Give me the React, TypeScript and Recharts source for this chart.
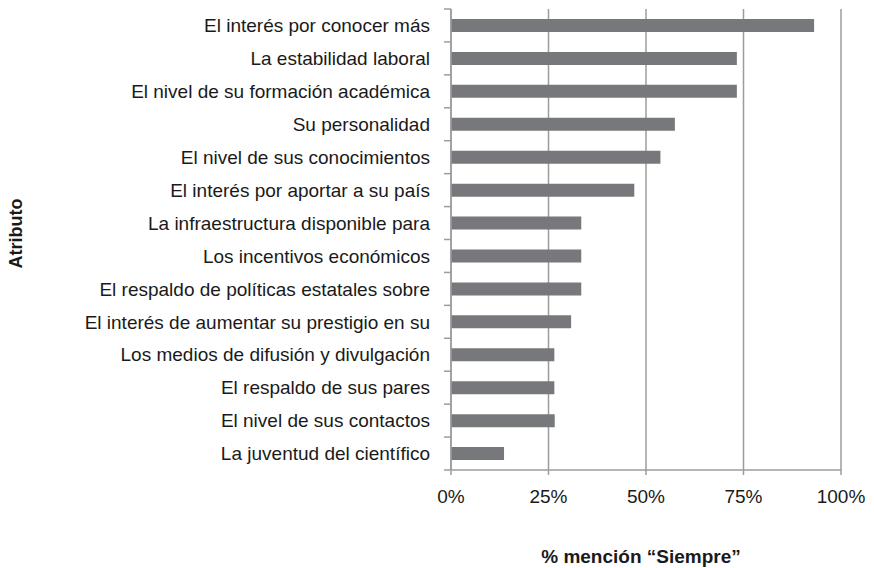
import * as React from 'react';
import { BarChart, Bar, XAxis, YAxis, CartesianGrid, Label } from 'recharts';

const atributos = [
  'El interés por conocer más',
  'La estabilidad laboral',
  'El nivel de su formación académica',
  'Su personalidad',
  'El nivel de sus conocimientos',
  'El interés por aportar a su país',
  'La infraestructura disponible para',
  'Los incentivos económicos',
  'El respaldo de políticas estatales sobre',
  'El interés de aumentar su prestigio en su',
  'Los medios de difusión y divulgación',
  'El respaldo de sus pares',
  'El nivel de sus contactos',
  'La juventud del científico'
];

const siempre = [93.1, 73.3, 73.3, 57.4, 53.7, 47.0, 33.4, 33.4, 33.4, 30.8, 26.5, 26.5, 26.6, 13.6];

const xTicks = [0, 25, 50, 75, 100];

const data = atributos.map((name, i) => ({ name, value: siempre[i] }));

const WIDTH = 874;
const HEIGHT = 568;
const MARGIN = { top: 9, right: 33, bottom: 0, left: 0 };
const X_AXIS_HEIGHT = 98;
const Y_AXIS_WIDTH = 451;
const TICK_SIZE = 7;
const TICK_MARGIN = 14;

const plotHeight = HEIGHT - MARGIN.top - MARGIN.bottom - X_AXIS_HEIGHT;
const band = plotHeight / atributos.length;

const FONT = '"Liberation Sans", Arial, Helvetica, sans-serif';
const GRID = '#9c9c9c';

// category label + tick marks on the band boundaries (Excel style)
const CategoryTick = (props: any) => {
  const { x, y, payload, index } = props;
  const lineX2 = x + TICK_MARGIN + TICK_SIZE;
  const lineX1 = x + TICK_MARGIN;
  return (
    <g>
      {index === 0 && (
        <line x1={lineX1} x2={lineX2} y1={y - band / 2} y2={y - band / 2} stroke={GRID} strokeWidth={1.5} />
      )}
      <line x1={lineX1} x2={lineX2} y1={y + band / 2} y2={y + band / 2} stroke={GRID} strokeWidth={1.5} />
      <text x={x} y={y} dy="0.355em" textAnchor="end" fontSize={19} fontFamily={FONT} fill="#1a1a1a">
        {payload.value}
      </text>
    </g>
  );
};

export default function App() {
  return (
    <div style={{ position: 'absolute', left: 0, top: 0, width: WIDTH, height: HEIGHT, background: '#fff' }}>
      <BarChart width={WIDTH} height={HEIGHT} data={data} layout="vertical" margin={MARGIN}>
        <CartesianGrid horizontal={false} stroke={GRID} strokeWidth={1.5} verticalValues={xTicks} />
        <XAxis
          type="number"
          domain={[0, 100]}
          ticks={xTicks}
          interval={0}
          height={X_AXIS_HEIGHT}
          tickFormatter={(v: number) => `${v}%`}
          axisLine={{ stroke: GRID, strokeWidth: 1.5 }}
          tickLine={{ stroke: GRID, strokeWidth: 1.5 }}
          tickSize={5}
          tickMargin={15}
          tick={{ fontSize: 19, fontFamily: FONT, fill: '#1a1a1a' }}
        >
          <Label
            content={(p: any) => {
              const vb = p.viewBox;
              return (
                <text
                  x={vb.x + vb.width / 2 - 5}
                  y={563}
                  textAnchor="middle"
                  fontSize={19}
                  fontWeight="bold"
                  fontFamily={FONT}
                  fill="#1a1a1a"
                >
                  % mención “Siempre”
                </text>
              );
            }}
          />
        </XAxis>
        <YAxis
          type="category"
          dataKey="name"
          width={Y_AXIS_WIDTH}
          interval={0}
          tickLine={false}
          tickSize={TICK_SIZE}
          tickMargin={TICK_MARGIN}
          axisLine={{ stroke: GRID, strokeWidth: 1.5 }}
          tick={<CategoryTick />}
        >
          <Label
            content={(p: any) => {
              const vb = p.viewBox;
              const cy = vb.y + vb.height / 2 - 6;
              return (
                <text
                  x={16}
                  y={cy}
                  transform={`rotate(-90, 16, ${cy})`}
                  dy="0.355em"
                  textAnchor="middle"
                  fontSize={18}
                  fontWeight="bold"
                  fontFamily={FONT}
                  fill="#1a1a1a"
                >
                  Atributo
                </text>
              );
            }}
          />
        </YAxis>
        <Bar dataKey="value" fill="#77787b" barSize={13} isAnimationActive={false} />
      </BarChart>
    </div>
  );
}
